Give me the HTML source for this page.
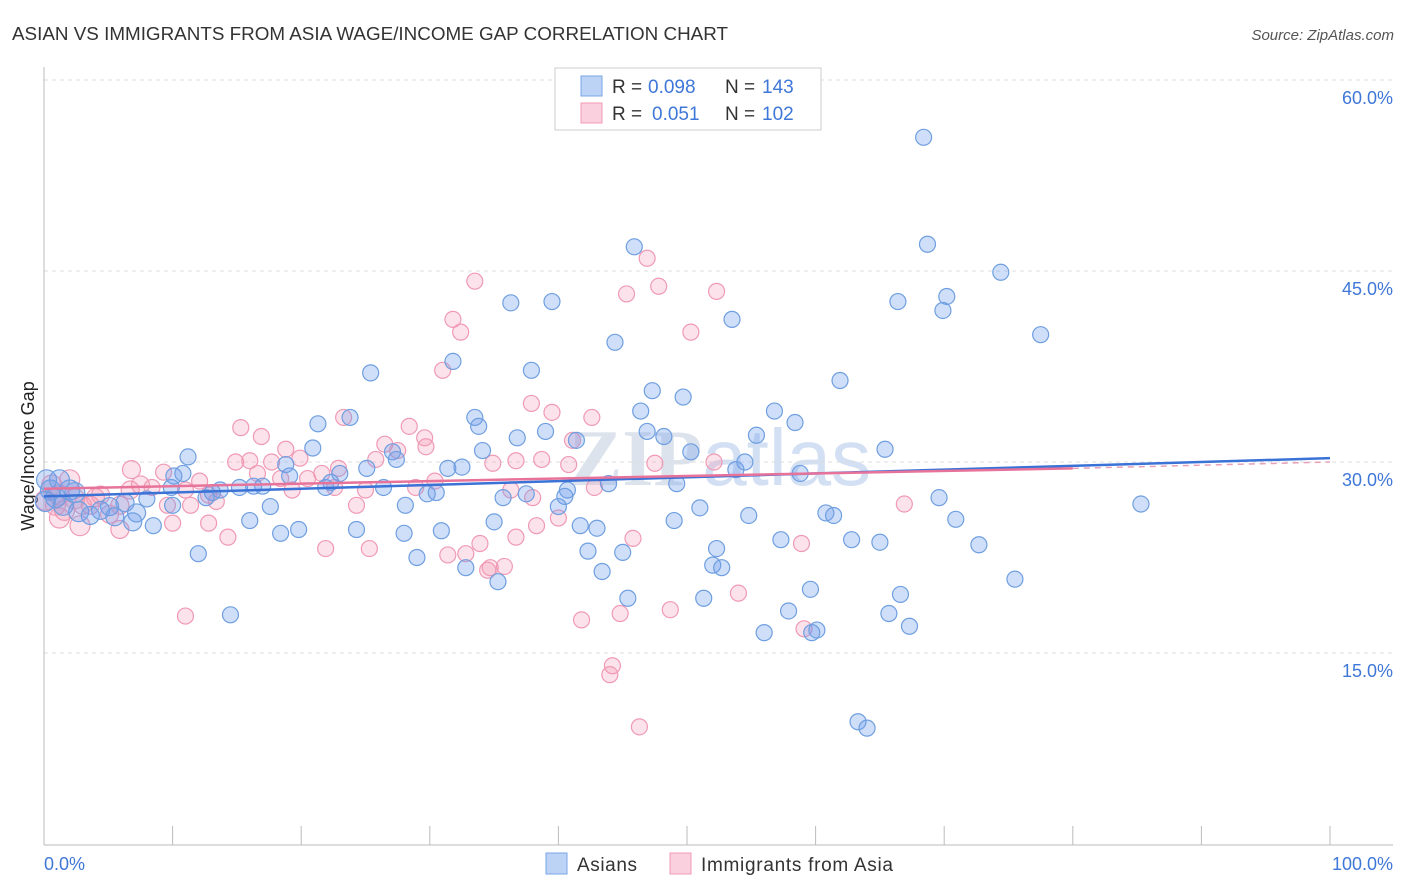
<!DOCTYPE html>
<html><head><meta charset="utf-8">
<style>
body{margin:0;background:#fff;font-family:"Liberation Sans",sans-serif;}
#wrap{position:relative;width:1406px;height:892px;overflow:hidden;}
</style></head>
<body><div id="wrap">
<svg id="svg" width="1406" height="892" xmlns="http://www.w3.org/2000/svg">
<text x="12" y="40" font-size="18" fill="#333" textLength="716" lengthAdjust="spacingAndGlyphs">ASIAN VS IMMIGRANTS FROM ASIA WAGE/INCOME GAP CORRELATION CHART</text>
<text x="1394" y="40" font-size="15" fill="#555" font-style="italic" text-anchor="end">Source: ZipAtlas.com</text>
<text x="34" y="456" font-size="18" fill="#222" text-anchor="middle" transform="rotate(-90 34 456)">Wage/Income Gap</text>
<text x="720" y="485" font-size="80" fill="#dde3ec" text-anchor="middle" font-weight="bold" font-family="Liberation Serif,serif">ZIP<tspan font-weight="normal" font-family="Liberation Sans,sans-serif" fill="#d3e0f3">atlas</tspan></text>
<g id="grid"></g><g id="pts"></g><g id="trend"></g>
<g>
<rect x="555" y="68" width="266" height="62" fill="#fff" stroke="#ccc"/>
<rect x="581" y="76" width="21" height="20" fill="#bcd3f5" stroke="#7aa6e6"/>
<rect x="581" y="103" width="21" height="20" fill="#fbd0de" stroke="#f09ab5"/>
<g font-size="19">
<text x="612" y="93" fill="#333">R =</text><text x="648" y="93" fill="#3f77d8">0.098</text>
<text x="725" y="93" fill="#333">N =</text><text x="762" y="93" fill="#3f77d8">143</text></g>
<g font-size="19">
<text x="612" y="120" fill="#333">R =</text><text x="652" y="120" fill="#3f77d8">0.051</text>
<text x="725" y="120" fill="#333">N =</text><text x="762" y="120" fill="#3f77d8">102</text></g>
</g>
<g>
<rect x="546" y="853" width="21" height="21" fill="#bcd3f5" stroke="#7aa6e6"/>
<text x="577" y="871" font-size="19" fill="#333" textLength="60">Asians</text>
<rect x="670" y="853" width="21" height="21" fill="#fbd0de" stroke="#f09ab5"/>
<text x="701" y="871" font-size="19" fill="#333" textLength="192">Immigrants from Asia</text>
</g>
</svg>
<script>
const yTicks=[15,30,45,60];
const yTickLabels=["15.0%","30.0%","45.0%","60.0%"];
const xTickLabels=["0.0%","100.0%"];
const blueX=[68.4,68.7,74.4,45.9,70.2,69.9,66.4,36.3,39.5,53.5,77.5,44.4,31.8,37.9,25.4,61.9,47.3,49.7,46.4,56.8,58.4,33.5,23.8,21.3,33.8,39.0,36.8,41.4,46.9,48.2,55.4,34.1,20.9,11.2,50.3,65.4,27.1,27.4,25.1,32.5,31.4,23.0,10.8,53.8,58.8,54.5,19.1,17.0,18.8,22.3,21.9,26.4,28.1,29.8,30.5,40.7,37.5,40.5,35.7,43.9,49.2,69.6,13.7,13.1,15.2,12.6,16.3,9.9,10.1,8.0,6.3,5.1,4.4,2.7,1.5,0.9,0.5,2.0,3.6,5.5,7.2,8.5,6.9,10.0,16.0,17.6,18.4,19.8,24.3,28.0,29.0,30.9,35.0,40.0,41.7,43.0,49.0,51.0,54.8,60.8,61.4,70.9,72.7,85.3,42.3,45.0,52.3,57.3,62.8,65.0,52.0,52.7,43.4,32.8,35.3,75.5,12.0,45.4,51.3,59.6,66.6,65.7,57.9,67.3,56.0,60.1,59.7,14.5,63.3,64.0,0.1,0.2,1.2,2.4];
const blueY=[55.5,47.1,44.9,46.9,43.0,41.9,42.6,42.5,42.6,41.2,40.0,39.4,37.9,37.2,37.0,36.4,35.6,35.1,34.0,34.0,33.1,33.5,33.5,33.0,32.8,32.4,31.9,31.7,32.4,32.0,32.1,30.9,31.1,30.4,30.8,31.0,30.8,30.2,29.5,29.6,29.5,29.1,29.1,29.4,29.1,30.0,28.9,28.1,29.8,28.4,28.0,28.0,26.6,27.5,27.6,27.8,27.5,27.3,27.2,28.3,28.3,27.2,27.8,27.6,28.0,27.2,28.1,28.0,28.9,27.1,26.8,26.5,26.2,26.1,26.6,27.2,27.8,27.8,25.8,25.7,26.0,25.0,25.3,26.6,25.4,26.5,24.4,24.7,24.7,24.4,22.5,24.6,25.3,26.5,25.0,24.8,25.4,26.4,25.8,26.0,25.8,25.5,23.5,26.7,23.0,22.9,23.2,23.9,23.9,23.7,21.9,21.7,21.4,21.7,20.6,20.8,22.8,19.3,19.3,20.0,19.6,18.1,18.3,17.1,16.6,16.8,16.6,18.0,9.6,9.1,26.9,28.6,28.6,27.6];
const pinkX=[33.5,46.9,47.8,45.3,52.3,31.8,32.4,50.3,31.0,37.9,39.5,23.3,42.6,15.3,16.9,28.4,26.5,27.5,29.6,29.7,41.1,18.8,19.9,14.9,16.0,17.7,6.8,9.3,36.7,34.9,38.7,40.8,47.5,52.1,25.8,22.9,21.6,20.5,16.6,18.4,12.1,12.8,13.4,8.4,7.5,11.0,9.6,5.9,4.4,3.6,2.4,1.2,0.6,1.2,2.8,5.1,5.9,10.0,12.8,14.3,25.0,22.6,24.3,28.9,30.4,36.3,38.0,40.0,38.3,36.7,21.9,25.3,31.4,32.8,33.9,34.7,35.8,34.5,45.8,42.8,58.9,66.9,41.8,44.8,48.7,54.0,59.1,11.0,44.2,44.0,46.3,1.6,3.0,4.0,0.9,2.0,0.1,6.7,19.3,11.4];
const pinkY=[44.2,46.0,43.8,43.2,43.4,41.2,40.2,40.2,37.2,34.6,33.9,33.5,33.5,32.7,32.0,32.8,31.4,30.9,31.9,31.2,31.7,31.0,30.3,30.0,30.1,30.0,29.4,29.2,30.1,29.9,30.2,29.8,29.9,30.0,30.2,29.5,29.1,28.7,29.1,28.7,28.5,27.4,26.9,28.0,28.2,27.8,26.6,26.6,27.4,26.6,27.1,27.4,28.2,25.6,25.0,25.9,24.7,25.2,25.2,24.1,27.8,28.0,26.6,28.0,28.5,27.8,27.2,25.6,25.0,24.1,23.2,23.2,22.7,22.8,23.6,21.7,21.8,21.5,24.0,28.0,23.6,26.7,17.6,18.1,18.4,19.7,16.9,17.9,14.0,13.3,9.2,26.2,26.6,27.2,26.6,28.6,27.0,27.8,27.8,26.6];
const blueTrend=[27.3,30.3];
const pinkTrend=[27.9,29.5,30.0];
const NS="http://www.w3.org/2000/svg";
const X0=44,X1=1330;
function sx(v){return X0+(X1-X0)*v/100;}
function sy(v){return 462-(v-30)*191/15;}
function mk(t,a,parent){const e=document.createElementNS(NS,t);for(const k in a)e.setAttribute(k,a[k]);parent.appendChild(e);return e;}
const grid=document.getElementById('grid');
yTicks.forEach((t,i)=>{
 const l=mk('line',{x1:44,x2:1393,y1:sy(t),y2:sy(t),stroke:'#ddd','stroke-dasharray':'4,4'},grid);
 
 
 const tx=mk('text',{x:1393,y:sy(t)+24,'font-size':18,fill:'#3f77d8','text-anchor':'end'},grid);
 tx.textContent=yTickLabels[i];
 
 
});
const ax=mk('line',{x1:44,x2:1393,y1:845,y2:845,stroke:'#bbb'},grid);


const ay=mk('line',{x1:44,x2:44,y1:67,y2:845,stroke:'#bbb'},grid);


for(let i=0;i<=10;i++){
 const t=mk('line',{x1:sx(i*10),x2:sx(i*10),y1:826,y2:845,stroke:'#bbb'},grid);
 
 
}
[[0,'start',44],[1,'end',1393]].forEach(([i,anc,x])=>{
 const tx=mk('text',{x:x,y:870,'font-size':18,fill:'#3f77d8','text-anchor':anc},grid);
 tx.textContent=xTickLabels[i];
 
 
});
const pts=document.getElementById('pts');
function plot(xs,ys,fill,stroke,name){
 xs.forEach((x,i)=>{
  const r=(x<3)?10:(x<8?9:8);
  const c=mk('circle',{cx:sx(x),cy:sy(ys[i]),r:r,fill:fill,stroke:stroke,'stroke-width':1.2},pts);
  
  
 });
}
plot(pinkX,pinkY,'rgba(244,150,180,0.28)','#f09ab5','immigrants-point');
plot(blueX,blueY,'rgba(110,155,235,0.32)','#6f9fe0','asians-point');
const tr=document.getElementById('trend');
const bl=mk('line',{x1:sx(0),y1:sy(blueTrend[0]),x2:sx(100),y2:sy(blueTrend[1]),stroke:'#3a72d6','stroke-width':2.5},tr);


const pl=mk('line',{x1:sx(0),y1:sy(pinkTrend[0]),x2:sx(80),y2:sy(pinkTrend[1]),stroke:'#e8739a','stroke-width':2.5},tr);


const pd=mk('line',{x1:sx(80),y1:sy(pinkTrend[1]),x2:sx(100),y2:sy(pinkTrend[2]),stroke:'#e8a0b8','stroke-width':1.5,'stroke-dasharray':'6,5'},tr);


</script>
</div></body></html>
